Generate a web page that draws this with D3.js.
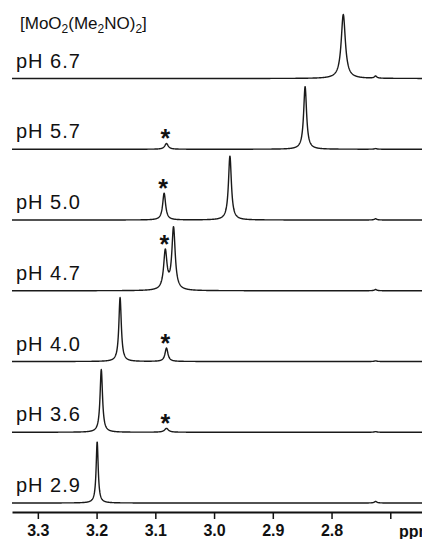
<!DOCTYPE html>
<html>
<head>
<meta charset="utf-8">
<script src="https://cdn.jsdelivr.net/npm/d3@7"></script>
<style>
  html, body { margin: 0; padding: 0; background: #fff; }
  svg { display: block; }
  text { font-family: "Liberation Sans", Arial, Helvetica, sans-serif; fill: #111; }
</style>
</head>
<body>
<script>
// ---- data ----
const phLabels   = ["pH 6.7", "pH 5.7", "pH 5.0", "pH 4.7", "pH 4.0", "pH 3.6", "pH 2.9"];
// main signal (ppm, relative intensity, line width ppm)
const mainShift  = [2.780, 2.845, 2.973, 3.069, 3.160, 3.192, 3.199];
const mainHeight = [1.00, 0.98, 1.00, 0.97, 1.00, 0.98, 0.96];
const mainWidth  = [0.0085, 0.006, 0.006, 0.0068, 0.005, 0.005, 0.0042];
// starred signal (*)
const starShift  = [null, 3.081, 3.085, 3.083, 3.081, 3.081, null];
const starHeight = [0, 0.09, 0.42, 0.60, 0.21, 0.06, 0];
const starWidth  = [0.006, 0.007, 0.006, 0.0068, 0.006, 0.008, 0.006];
// tiny impurity signal
const minorShift  = 2.725;
const minorHeight = [0.035, 0.01, 0.02, 0.02, 0.01, 0.01, 0.025];
// axis
const tickValues = [3.3, 3.2, 3.1, 3.0, 2.9, 2.8, 2.7];
const axisUnit = "ppm";
const titleParts = [["[MoO", false], ["2", true], ["(Me", false], ["2", true], ["NO)", false], ["2", true], ["]", false]];

// ---- layout ----
const W = 422, H = 539;
const svg = d3.select("body").append("svg").attr("width", W).attr("height", H);

const x = d3.scaleLinear().domain([3.344, 2.646]).range([12, 422]);
const base = d3.scaleLinear().domain([0, phLabels.length - 1]).range([78.5, 503]);
const amp = d3.scaleLinear().domain([0, 1]).range([0, 64]);

function lorentz(p, c, h, w) {
  if (c == null || !h) return 0;
  const d = (p - c) / (w / 2);
  return h / (1 + d * d);
}
function spectrum(i) {
  const pts = [];
  for (let p = 3.344; p >= 2.645; p -= 0.0004) {
    const v = lorentz(p, mainShift[i], mainHeight[i], mainWidth[i])
            + lorentz(p, starShift[i], starHeight[i], starWidth[i])
            + lorentz(p, minorShift, minorHeight[i], 0.005);
    pts.push([p, v]);
  }
  return pts;
}

const line = d3.line().x(d => x(d[0]));

phLabels.forEach((lab, i) => {
  const b = base(i);
  const data = spectrum(i);
  svg.append("path")
    .attr("d", line.y(d => b - amp(d[1]))(data))
    .attr("fill", "none")
    .attr("stroke", "#1a1a1a")
    .attr("stroke-width", 1.4)
    .attr("stroke-linejoin", "round");

  svg.append("text")
    .attr("x", 16).attr("y", b - 11)
    .attr("font-size", 20)
    .attr("letter-spacing", 1)
    .text(lab);

  if (starShift[i] != null) {
    const top = d3.max(data.filter(d => Math.abs(d[0] - starShift[i]) < 0.002), d => d[1]);
    const cy = b - amp(top) - 10;
    svg.append("text")
      .attr("x", x(starShift[i]) - 1)
      .attr("y", cy + 14)
      .attr("text-anchor", "middle")
      .attr("font-size", 25)
      .attr("font-weight", "bold")
      .text("*");
  }
});

// title
const title = svg.append("text").attr("x", 20).attr("y", 29).attr("font-size", 17);
titleParts.forEach(([t, sub]) => {
  const ts = title.append("tspan").text(t);
  if (sub) ts.attr("font-size", 12).attr("dy", 4);
  else ts.attr("dy", title.selectAll("tspan").size() > 1 ? -4 : 0);
});

// axis
const axisY = 512;
const axis = d3.axisBottom(x)
  .tickValues(tickValues)
  .tickFormat(d => d === 2.7 ? "" : d3.format(".1f")(d))
  .tickSize(7).tickSizeOuter(0).tickPadding(6);
const g = svg.append("g").attr("transform", `translate(0,${axisY})`).call(axis);
g.select(".domain").attr("stroke", "#111").attr("stroke-width", 2);
g.selectAll(".tick line").attr("stroke", "#111").attr("stroke-width", 1.5);
g.selectAll(".tick text")
  .attr("font-size", 16).attr("font-weight", "bold")
  .attr("font-family", "Liberation Sans, Arial, sans-serif").attr("fill", "#111");
svg.append("text")
  .attr("x", 399).attr("y", axisY + 24.5)
  .attr("font-size", 16).attr("font-weight", "bold")
  .text(axisUnit);
</script>
</body>
</html>
